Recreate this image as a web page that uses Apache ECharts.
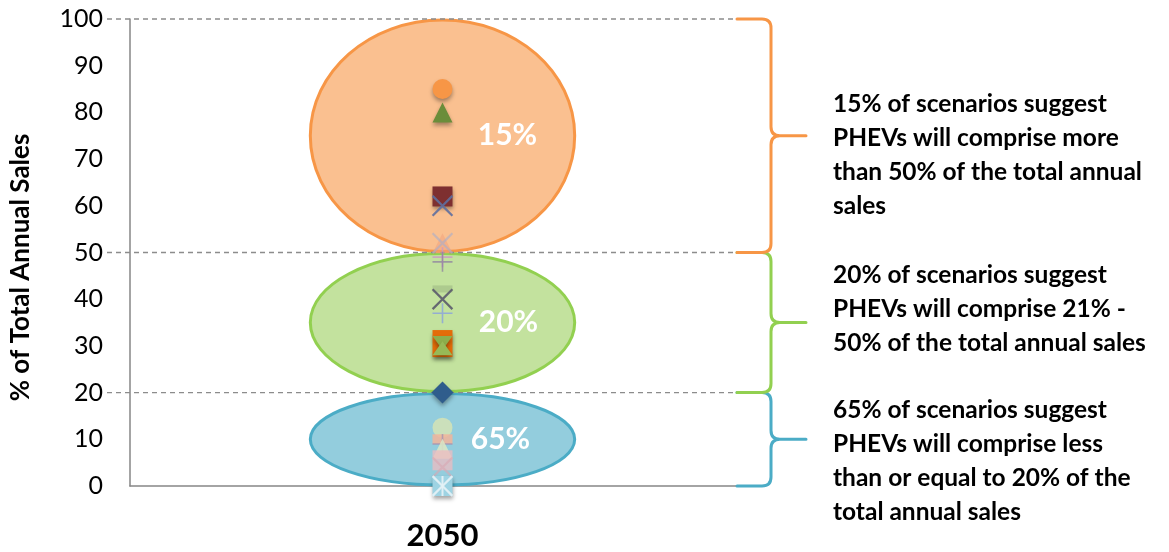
<!DOCTYPE html>
<html>
<head>
<meta charset="utf-8">
<script src="https://cdn.jsdelivr.net/npm/echarts@6/dist/echarts.min.js"></script>
<style>
  html, body { margin: 0; padding: 0; background: #ffffff; }
  #chart { width: 1169px; height: 552px; }
</style>
</head>
<body>
<div id="chart"></div>
<script>
// ---- data ----
const categories = ['2050'];

// PHEV share of total annual sales in each scenario (%)
const scenarioValues = [85, 80, 62, 60, 52, 52, 49, 48, 42.2, 40, 37, 30.5, 30.6, 29.5, 20,
                        12.5, 10, 9, 8, 5.5, 4, 0, 0, 0];

// outcome bands: lower bound, upper bound, share of scenarios
const bandLow = [0, 20, 50];
const bandHigh = [20, 50, 100];
const bandShare = ['65%', '20%', '15%'];
const bandNotes = [
  '65% of scenarios suggest\nPHEVs will comprise less\nthan or equal to 20% of the\ntotal annual sales',
  '20% of scenarios suggest\nPHEVs will comprise 21% -\n50% of the total annual sales',
  '15% of scenarios suggest\nPHEVs will comprise more\nthan 50% of the total annual\nsales'
];

// horizontal reference levels
const thresholdLevels = [20, 50, 100];

const yTicks = { min: 0, max: 100, interval: 10 };

// ---- styles ----
const PLUS = 'path://M9.2,0h1.6v9.2h9.2v1.6h-9.2v9.2h-1.6v-9.2h-9.2v-1.6h9.2z';
const markerSymbol = ['circle', 'triangle', 'rect', PLUS, 'triangle', PLUS, PLUS, PLUS, 'rect', PLUS, PLUS,
                      'rect', 'triangle', 'triangle', 'diamond',
                      'circle', 'rect', PLUS, 'triangle', 'rect', PLUS, 'rect', PLUS, 'rect'];
const markerSize = [20, 20, 20, 28, 20, 28, 20, 20, [20, 7], 28, 20,
                    [20, 27], [20, 14], [20, 14], 22,
                    20, [20, 10], 20, 20, [20, 20], 28, 20, 28, [2, 20]];
const markerRotate = [0, 0, 0, 45, 0, 45, 0, 0, 0, 45, 0,
                      0, 180, 0, 0,
                      0, 0, 0, 0, 0, 45, 0, 45, 0];
const markerColor = ['#F79646', '#6A8D3A', '#7E2F30', '#5F6F9E', '#F3A27C', '#A9AECB', '#C99AC2', '#8A7AA0',
                     '#A9C58B', '#5B5B6B', '#8FA9D6',
                     '#E36C09', '#8DAE4C', '#97B957', '#2F5D8C',
                     '#D5E3B5', '#F2B49A', '#8F86B6', '#DDE8C4', '#EDBBC0', '#D9A7B3', '#9ED3E3', '#E6F2F6', '#E6F2F6'];
const markerOpacity = [1, 1, 1, 0.9, 0.55, 0.6, 0.8, 0.7,
                       0.85, 0.9, 0.9,
                       1, 1, 1, 1,
                       0.85, 0.85, 0.6, 0.85, 0.75, 0.6, 1, 0.9, 0.9];
const markerShadow = [1, 1, 1, 0, 0, 0, 0, 0,
                      0, 0, 0,
                      1, 1, 1, 1,
                      0, 0, 0, 0, 0, 0, 1, 0, 0];

const bandFill = ['#93CDDD', '#C3E29E', '#FAC090'];
const bandStroke = ['#4BACC6', '#92D050', '#F79646'];
const bandLabelShift = [58, 66, 65];
const noteTop = [393, 258, 87];

const FONT = 'Lato, "Open Sans", "Liberation Sans", sans-serif';

const scatterData = scenarioValues.map((v, i) => ({
  value: [categories[0], v],
  symbol: markerSymbol[i],
  symbolSize: markerSize[i],
  symbolRotate: markerRotate[i],
  itemStyle: {
    color: markerColor[i],
    opacity: markerOpacity[i],
    shadowBlur: markerShadow[i] ? 4 : 0,
    shadowOffsetY: markerShadow[i] ? 3 : 0,
    shadowColor: 'rgba(0,0,0,0.35)'
  }
}));

const bandData = bandLow.map((lo, i) => [0, lo, bandHigh[i]]);

const chart = echarts.init(document.getElementById('chart'), null, { renderer: 'canvas' });

chart.setOption({
  animation: false,
  backgroundColor: '#ffffff',
  grid: { left: 126, right: 414, top: 19, bottom: 66 },
  xAxis: {
    type: 'category',
    data: categories,
    axisLine: { lineStyle: { color: '#868686', width: 1.5 } },
    axisTick: { show: false },
    axisLabel: { fontFamily: FONT, fontWeight: 'bold', fontSize: 31, color: '#000', margin: 34 }
  },
  yAxis: {
    type: 'value',
    min: yTicks.min, max: yTicks.max, interval: yTicks.interval,
    name: '% of Total Annual Sales',
    nameLocation: 'middle',
    nameGap: 96,
    nameTextStyle: { fontFamily: FONT, fontWeight: 'bold', fontSize: 26, color: '#000', padding: [0, 30, 0, 0] },
    axisLine: { show: true, lineStyle: { color: '#868686', width: 1.5 } },
    axisTick: { show: false },
    splitLine: { show: false },
    axisLabel: { fontFamily: FONT, fontSize: 25, color: '#000', margin: 27 }
  },
  series: [
    {
      // scenario-share ellipses over each band
      type: 'custom',
      z: 1,
      data: bandData,
      renderItem: function (params, api) {
        const i = params.dataIndex;
        const top = api.coord([api.value(0), api.value(2)]);
        const bot = api.coord([api.value(0), api.value(1)]);
        const bw = api.size([1, 0])[0];
        const cx = top[0];
        const cy = (top[1] + bot[1]) / 2;
        const ry = (bot[1] - top[1]) / 2 - 1;
        const rx = bw * 0.423 / 2;
        return {
          type: 'group',
          children: [
            { type: 'ellipse', shape: { cx: cx, cy: cy, rx: rx, ry: ry },
              style: { fill: bandFill[i], stroke: bandStroke[i], lineWidth: 3 } },
            { type: 'text', z2: 100,
              style: { text: bandShare[i], x: cx + bandLabelShift[i], y: cy,
                       align: 'center', verticalAlign: 'middle',
                       fill: '#ffffff', font: 'bold 30px ' + FONT } }
          ]
        };
      }
    },
    {
      // dashed threshold lines
      type: 'custom',
      z: 2,
      data: thresholdLevels.map(v => [0, v]),
      renderItem: function (params, api) {
        const p = api.coord([api.value(0), api.value(1)]);
        const cs = params.coordSys;
        return {
          type: 'line',
          shape: { x1: cs.x - 23, y1: p[1], x2: cs.x + cs.width - 18, y2: p[1] },
          style: { stroke: '#8C8C8C', lineWidth: 1.3, lineDash: [5, 4] }
        };
      }
    },
    {
      // braces grouping each band, with notes
      type: 'custom',
      z: 3,
      data: bandData,
      renderItem: function (params, api) {
        const i = params.dataIndex;
        const cs = params.coordSys;
        const yT = api.coord([api.value(0), api.value(2)])[1];
        const yB = api.coord([api.value(0), api.value(1)])[1];
        const yM = (yT + yB) / 2;
        const right = cs.x + cs.width;
        const x0 = right - 18, xv = right + 16, xt = right + 51, r = 9;
        const d = 'M' + x0 + ',' + yT + ' L' + (xv - r) + ',' + yT +
                  ' Q' + xv + ',' + yT + ' ' + xv + ',' + (yT + r) +
                  ' L' + xv + ',' + (yM - r) +
                  ' Q' + xv + ',' + yM + ' ' + (xv + r) + ',' + yM +
                  ' L' + xt + ',' + yM +
                  ' M' + (xv + r) + ',' + yM +
                  ' Q' + xv + ',' + yM + ' ' + xv + ',' + (yM + r) +
                  ' L' + xv + ',' + (yB - r) +
                  ' Q' + xv + ',' + yB + ' ' + (xv - r) + ',' + yB +
                  ' L' + x0 + ',' + yB;
        return {
          type: 'group',
          children: [
            { type: 'path', shape: { pathData: d },
              style: { fill: 'none', stroke: bandStroke[i], lineWidth: 3, lineCap: 'round', lineJoin: 'round' } },
            { type: 'text',
              style: { text: bandNotes[i], x: right + 78, y: noteTop[i],
                       verticalAlign: 'top', align: 'left',
                       font: 'bold 24.5px ' + FONT, lineHeight: 34, fill: '#000' } }
          ]
        };
      }
    },
    {
      type: 'scatter',
      z: 5,
      data: scatterData
    }
  ]
});
</script>
</body>
</html>
